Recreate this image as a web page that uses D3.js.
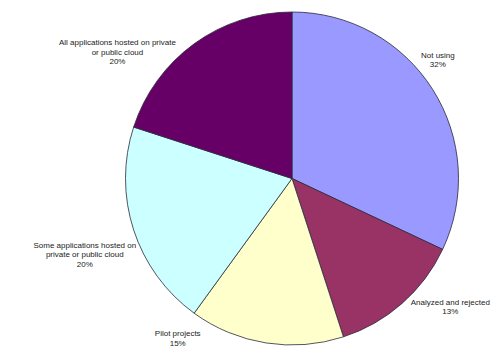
<!DOCTYPE html>
<html>
<head>
<meta charset="utf-8">
<script src="https://cdn.jsdelivr.net/npm/d3@7"></script>
<style>
  body { margin: 0; background: #fff; }
  text { font-family: Arial, "Liberation Sans", sans-serif; font-size: 8px; fill: #222; }
</style>
</head>
<body>
<div id="chart"></div>
<script>
// slice data, clockwise from 12 o'clock
var categories = [
  'Not using',
  'Analyzed and rejected',
  'Pilot projects',
  'Some applications hosted on private or public cloud',
  'All applications hosted on private or public cloud'
];
var values = [32, 13, 15, 20, 20];
var labelLines = [
  ['Not using'],
  ['Analyzed and rejected'],
  ['Pilot projects'],
  ['Some applications hosted on', 'private or public cloud'],
  ['All applications hosted on private', 'or public cloud']
];
var colors = ['#9999ff', '#993366', '#ffffcc', '#ccffff', '#660066'];

// label offsets from the label-arc centroid (layout only)
var labelNudge = [[-23, -12], [26, -22], [-83, -38], [-17, 14], [-57, 35]];

var width = 500, height = 360;
var cx = 292, cy = 178.5, radius = 166.5;

var svg = d3.select('#chart')
  .append('svg')
  .attr('width', width)
  .attr('height', height)
  .append('g')
  .attr('transform', 'translate(' + cx + ',' + cy + ')');

var data = categories.map(function(c, i) {
  return { name: c, value: values[i], lines: labelLines[i], color: colors[i], nudge: labelNudge[i] };
});

var pie = d3.pie()
  .sort(null)
  .value(function(d) { return d.value; });

var arc = d3.arc().innerRadius(0).outerRadius(radius);
var labelArc = d3.arc().innerRadius(200).outerRadius(200);

var arcs = pie(data);

svg.selectAll('.slice')
  .data(arcs)
  .enter().append('path')
  .attr('class', 'slice')
  .attr('d', arc)
  .attr('fill', function(d) { return d.data.color; })
  .attr('stroke', '#2a2a3a')
  .attr('stroke-width', 0.8);

var lineH = 9.5;

var labels = svg.selectAll('.label')
  .data(arcs)
  .enter().append('text')
  .attr('class', 'label')
  .attr('text-anchor', 'middle')
  .attr('transform', function(d) {
    var c = labelArc.centroid(d);
    return 'translate(' + (c[0] + d.data.nudge[0]) + ',' + (c[1] + d.data.nudge[1]) + ')';
  });

labels.each(function(d) {
  var lines = d.data.lines.concat([d.data.value + '%']);
  var top = -(lines.length - 1) * lineH / 2;
  d3.select(this).selectAll('tspan')
    .data(lines)
    .enter().append('tspan')
    .attr('x', 0)
    .attr('y', function(l, i) { return top + i * lineH + 3; })
    .text(function(l) { return l; });
});
</script>
</body>
</html>
